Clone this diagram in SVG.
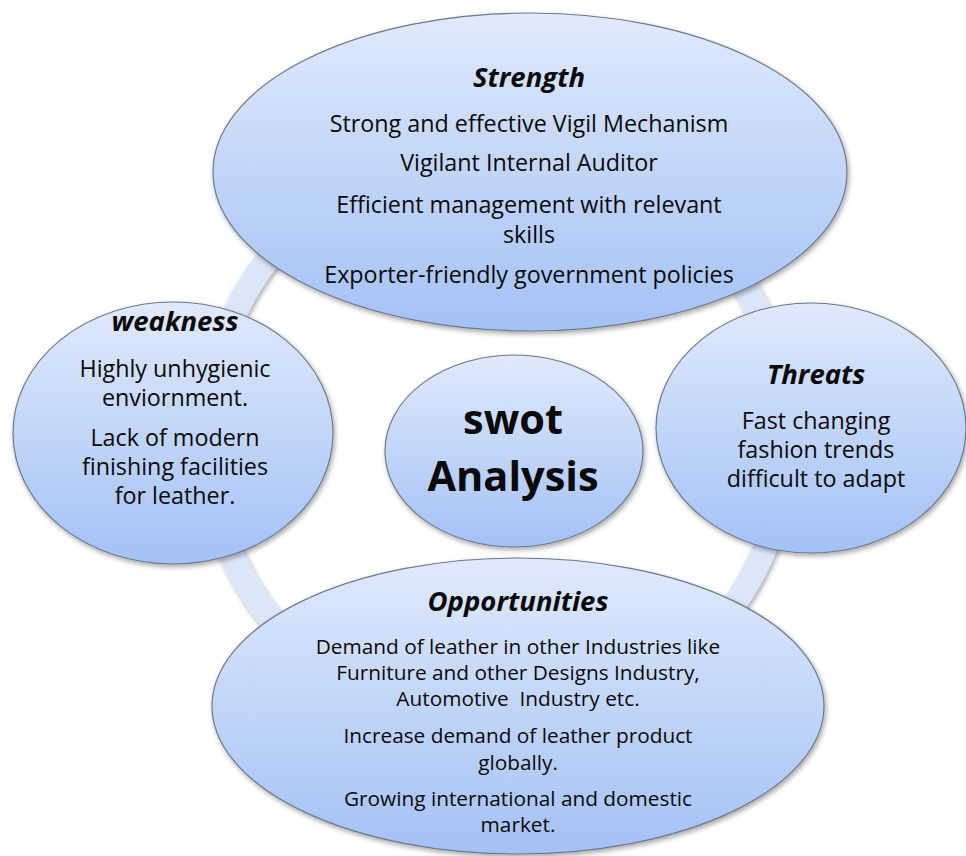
<svg xmlns="http://www.w3.org/2000/svg" width="966" height="856" viewBox="0 0 966 856">
<defs>
<linearGradient id="g" x1="0" y1="0" x2="0" y2="1">
<stop offset="0" stop-color="#e0eafc"/>
<stop offset="1" stop-color="#a4c1f5"/>
</linearGradient>
<filter id="sh" x="-10%" y="-10%" width="125%" height="125%">
<feDropShadow dx="1.5" dy="2.5" stdDeviation="2.5" flood-color="#000" flood-opacity="0.35"/>
</filter>
</defs>
<style>
.n{fill:url(#g);stroke:#6d7a8c;stroke-width:1.2;filter:url(#sh)}
text{font-family:"Open Sans","Noto Sans","Liberation Sans",sans-serif;fill:#0a0a0a;text-anchor:middle}
.t{font-weight:bold;font-style:italic;font-size:27.5px}
.b{font-size:23.3px}
.s{font-size:20.8px}
.c{font-weight:bold;font-size:41.5px}
</style>
<rect width="966" height="856" fill="#fff"/>
<g id="connectors">
<circle cx="497" cy="437" r="290" fill="none" stroke="#dce6f9" stroke-width="24" filter="url(#sh)"/>
</g>
<g id="weakness">
<ellipse class="n" cx="173" cy="433" rx="160" ry="131"/>
<text class="t" x="175" y="331">weakness</text>
<text class="b" x="175" y="377">Highly unhygienic</text>
<text class="b" x="175" y="406">enviornment.</text>
<text class="b" x="175" y="446">Lack of modern</text>
<text class="b" x="175" y="475">finishing facilities</text>
<text class="b" x="175" y="504">for leather.</text>
</g>
<g id="threats">
<ellipse class="n" cx="811" cy="428" rx="155" ry="125"/>
<text class="t" x="816" y="384">Threats</text>
<text class="b" x="816" y="429">Fast changing</text>
<text class="b" x="816" y="458">fashion trends</text>
<text class="b" x="816" y="487">difficult to adapt</text>
</g>
<g id="strength">
<ellipse class="n" cx="530" cy="172" rx="317" ry="159"/>
<text class="t" x="529" y="87">Strength</text>
<text class="b" x="529" y="132">Strong and effective Vigil Mechanism</text>
<text class="b" x="529" y="171">Vigilant Internal Auditor</text>
<text class="b" x="529" y="213">Efficient management with relevant</text>
<text class="b" x="529" y="243">skills</text>
<text class="b" x="529" y="283">Exporter-friendly government policies</text>
</g>
<g id="center">
<ellipse class="n" cx="514" cy="451" rx="129" ry="96"/>
<text class="c" x="513" y="434">swot</text>
<text class="c" x="513" y="491">Analysis</text>
</g>
<g id="opportunities">
<ellipse class="n" cx="518" cy="706" rx="306" ry="148"/>
<text class="t" x="518" y="611">Opportunities</text>
<text class="s" x="518" y="654">Demand of leather in other Industries like</text>
<text class="s" x="518" y="680">Furniture and other Designs Industry,</text>
<text class="s" x="518" y="706" xml:space="preserve">Automotive  Industry etc.</text>
<text class="s" x="518" y="743">Increase demand of leather product</text>
<text class="s" x="518" y="770">globally.</text>
<text class="s" x="518" y="806">Growing international and domestic</text>
<text class="s" x="518" y="832">market.</text>
</g>
</svg>
